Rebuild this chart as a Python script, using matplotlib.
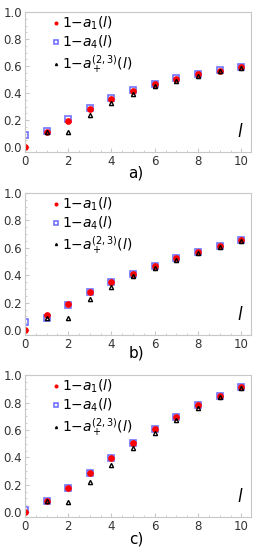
import numpy as np
import matplotlib
matplotlib.use("Agg")
import matplotlib.pyplot as plt

# site index l
l = [0, 1, 2, 3, 4, 5, 6, 7, 8, 9, 10]

# panel a)
a1_a = [0.0, 0.11, 0.195, 0.28, 0.355, 0.415, 0.465, 0.507, 0.54, 0.566, 0.59]
a4_a = [0.088, 0.117, 0.207, 0.288, 0.36, 0.42, 0.47, 0.51, 0.543, 0.568, 0.59]
ap_a = [0.0, 0.113, 0.115, 0.237, 0.324, 0.39, 0.45, 0.49, 0.53, 0.56, 0.585]

# panel b)
a1_b = [0.0, 0.107, 0.194, 0.277, 0.35, 0.413, 0.47, 0.524, 0.573, 0.617, 0.655]
a4_b = [0.058, 0.09, 0.187, 0.277, 0.35, 0.413, 0.47, 0.524, 0.573, 0.617, 0.655]
ap_b = [0.0, 0.09, 0.09, 0.228, 0.315, 0.393, 0.454, 0.51, 0.563, 0.61, 0.648]

# panel c)
a1_c = [0.0, 0.08, 0.18, 0.288, 0.398, 0.503, 0.604, 0.695, 0.78, 0.851, 0.911]
a4_c = [0.017, 0.08, 0.18, 0.288, 0.398, 0.503, 0.604, 0.695, 0.78, 0.851, 0.911]
ap_c = [0.0, 0.08, 0.077, 0.22, 0.345, 0.465, 0.575, 0.676, 0.76, 0.837, 0.904]

panels = [("a)", a1_a, a4_a, ap_a), ("b)", a1_b, a4_b, ap_b), ("c)", a1_c, a4_c, ap_c)]

fig = plt.figure(figsize=(2.57, 5.5), dpi=100)

# [bottom, top] of each axes in figure fraction, and the y of panel labels
boxes = [(0.724, 0.978, 0.685), (0.391, 0.649, 0.358), (0.060, 0.318, 0.020)]

for (name, a1, a4, ap), (b, t, ly) in zip(panels, boxes):
    ax = fig.add_axes([0.097, b, 0.977 - 0.097, t - b])
    ax.plot(l, a4, ls="none", marker="s", ms=5, mfc="none", mec=(0.45, 0.45, 1.0), mew=1.2,
            label="1\u2212$a_4$($l$)")
    ax.plot(l, a1, ls="none", marker="o", ms=3.8, color="red", label="1\u2212$a_1$($l$)")
    ax.plot(l[1:], ap[1:], ls="none", marker="^", ms=3, mfc="none", mec="black", mew=1.0,
            label="1\u2212$a_+^{(2,3)}$($l$)")
    ax.set_xlim(0, 10.45)
    ax.set_ylim(-0.035, 1.0)
    ax.set_xticks([0, 2, 4, 6, 8, 10])
    ax.set_yticks([0.0, 0.2, 0.4, 0.6, 0.8, 1.0])
    ax.set_yticklabels(["0.0", "0.2", "0.4", "0.6", "0.8", "1.0"])
    ax.set_xticks(np.arange(0, 10.5, 0.5), minor=True)
    ax.set_yticks(np.arange(0, 1.0, 0.05), minor=True)
    for s in ax.spines.values():
        s.set_color("#c8c8c8")
        s.set_linewidth(0.8)
    ax.tick_params(which="both", direction="in", color="#c8c8c8", labelsize=8.5,
                   labelcolor="#333333", pad=2)
    ax.tick_params(which="major", length=3)
    ax.tick_params(which="minor", length=1.5)
    ax.text(0.965, 0.08, r"$l$", transform=ax.transAxes, fontsize=12, ha="right", va="bottom")
    h, lab = ax.get_legend_handles_labels()
    leg = ax.legend([h[1], h[0], h[2]], [lab[1], lab[0], lab[2]], loc="upper left",
                    bbox_to_anchor=(0.07, 1.07), frameon=False, fontsize=10,
                    handlelength=0.4, handletextpad=0.25, labelspacing=0.12, markerscale=0.5)
    fig.text(0.53, ly, name, ha="center", va="center", fontsize=11)

fig.savefig("out.png", dpi=100)
